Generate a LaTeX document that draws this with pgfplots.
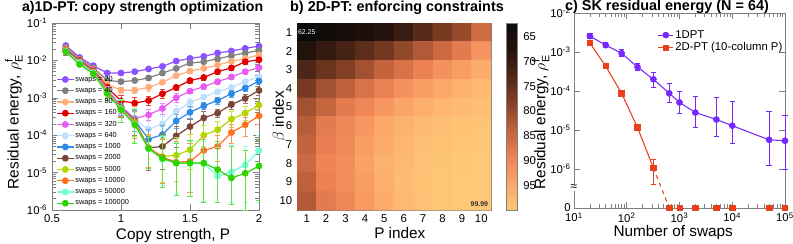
\documentclass[border=0pt]{standalone}
\usepackage{fontspec}
\setmainfont{Liberation Sans}
\usepackage{pgfplots}
\usepackage{pgfplotstable}
\pgfplotsset{compat=1.18}
\definecolor{cA}{RGB}{140,82,255}
\definecolor{cB}{RGB}{128,128,128}
\definecolor{cC}{RGB}{255,174,122}
\definecolor{cD}{RGB}{224,0,0}
\definecolor{cE}{RGB}{232,92,242}
\definecolor{cF}{RGB}{190,222,255}
\definecolor{cG}{RGB}{47,138,230}
\definecolor{cH}{RGB}{122,68,56}
\definecolor{cI}{RGB}{180,214,0}
\definecolor{cJ}{RGB}{255,112,32}
\definecolor{cK}{RGB}{112,255,216}
\definecolor{cL}{RGB}{47,212,0}
\definecolor{dpt}{RGB}{120,40,255}
\definecolor{tdpt}{RGB}{232,64,28}

\pgfplotstableread{
x y ep em
0.6 2.5e-2 .1 .1
0.7 1.2e-2 .1 .1
0.8 7.2e-3 .1 .1
0.9 4.6e-3 .1 .1
1.0 4.6e-3 .1 .1
1.1 5.0e-3 .1 .1
1.2 5.9e-3 .1 .1
1.3 6.9e-3 .1 .1
1.4 9.6e-3 .1 .1
1.5 1.13e-2 .1 .1
1.6 1.28e-2 .1 .1
1.7 1.58e-2 .1 .1
1.8 1.78e-2 .1 .1
1.9 2.1e-2 .1 .1
2.0 2.4e-2 .1 .1
}\tA
\pgfplotstableread{
x y ep em
0.6 2.2e-2 .12 .12
0.7 1.1e-2 .12 .12
0.8 6.3e-3 .12 .12
0.9 2.9e-3 .12 .12
1.0 2.7e-3 .12 .12
1.1 2.9e-3 .12 .12
1.2 3.4e-3 .12 .12
1.3 4.6e-3 .12 .12
1.4 6.1e-3 .12 .12
1.5 8.5e-3 .12 .12
1.6 9.2e-3 .12 .12
1.7 1.1e-2 .12 .12
1.8 1.33e-2 .12 .12
1.9 1.58e-2 .12 .12
2.0 1.85e-2 .12 .12
}\tB
\pgfplotstableread{
x y ep em
0.6 2.1e-2 .12 .12
0.7 1.04e-2 .12 .12
0.8 5.9e-3 .12 .12
0.9 2.3e-3 .12 .12
1.0 1.6e-3 .2 .2
1.1 1.6e-3 .2 .2
1.2 1.9e-3 .2 .2
1.3 2.6e-3 .12 .12
1.4 3.9e-3 .12 .12
1.5 5.2e-3 .12 .12
1.6 6.1e-3 .12 .12
1.7 7.5e-3 .12 .12
1.8 9.5e-3 .12 .12
1.9 1.13e-2 .12 .12
2.0 1.4e-2 .12 .12
}\tC
\pgfplotstableread{
x y ep em
0.6 2.0e-2 .15 .15
0.7 1.0e-2 .15 .15
0.8 5.6e-3 .15 .15
0.9 1.9e-3 .2 .2
1.0 8.2e-4 .4 .3
1.1 7.2e-4 .4 .3
1.2 8.5e-4 .3 .25
1.3 1.28e-3 .3 .25
1.4 1.9e-3 .15 .15
1.5 2.9e-3 .15 .15
1.6 3.5e-3 .15 .15
1.7 5.0e-3 .15 .15
1.8 6.3e-3 .15 .15
1.9 9.2e-3 .15 .15
2.0 1.04e-2 .15 .15
}\tD
\pgfplotstableread{
x y ep em
0.6 1.9e-2 .15 .15
0.7 9.6e-3 .15 .15
0.8 5.4e-3 .15 .15
0.9 1.7e-3 .2 .2
1.0 5.9e-4 .5 .35
1.1 2.8e-4 .5 .4
1.2 3.5e-4 .4 .3
1.3 5.2e-4 .4 .3
1.4 1.0e-3 .3 .25
1.5 1.5e-3 .15 .15
1.6 2.0e-3 .15 .15
1.7 2.7e-3 .15 .15
1.8 3.6e-3 .15 .15
1.9 5.0e-3 .15 .15
2.0 6.4e-3 .15 .15
}\tE
\pgfplotstableread{
x y ep em
0.6 1.9e-2 .15 .15
0.7 9.3e-3 .15 .15
0.8 5.2e-3 .15 .15
0.9 1.6e-3 .2 .2
1.0 5.6e-4 .5 .35
1.1 2.5e-4 .6 .4
1.2 1.45e-4 .6 .4
1.3 2.0e-4 .6 .4
1.4 4.4e-4 .4 .3
1.5 7.5e-4 .3 .25
1.6 1.05e-3 .15 .15
1.7 1.45e-3 .15 .15
1.8 1.9e-3 .15 .15
1.9 2.7e-3 .15 .15
2.0 3.7e-3 .15 .15
}\tF
\pgfplotstableread{
x y ep em
0.6 1.9e-2 .2 .2
0.7 9.3e-3 .2 .2
0.8 5.2e-3 .2 .2
0.9 1.5e-3 .2 .2
1.0 5.6e-4 .6 .4
1.1 2.5e-4 .8 .5
1.2 7.8e-5 .8 .5
1.3 1.04e-4 .8 .5
1.4 2.4e-4 .5 .35
1.5 4.1e-4 .4 .3
1.6 6.1e-4 .2 .2
1.7 8.5e-4 .2 .2
1.8 1.28e-3 .2 .2
1.9 1.8e-3 .2 .2
2.0 2.8e-3 .2 .2
}\tG
\pgfplotstableread{
x y ep em
0.6 1.85e-2 .25 .25
0.7 9.0e-3 .25 .25
0.8 5.0e-3 .25 .25
0.9 1.5e-3 .25 .25
1.0 5.4e-4 .7 .45
1.1 2.4e-4 1 .6
1.2 4.6e-5 1.2 .75
1.3 5.0e-5 1.2 .75
1.4 9.6e-5 .8 .5
1.5 1.7e-4 .6 .4
1.6 2.9e-4 .5 .35
1.7 3.9e-4 .25 .25
1.8 6.6e-4 .25 .25
1.9 9.6e-4 .25 .25
2.0 1.58e-3 .25 .25
}\tH
\pgfplotstableread{
x y ep em
0.6 1.8e-2 .2 .2
0.7 8.8e-3 .2 .2
0.8 4.9e-3 .2 .2
0.9 1.45e-3 .3 .3
1.0 5.2e-4 .6 .4
1.1 2.3e-4 1.2 .6
1.2 4.6e-5 1.2 .7
1.3 2.7e-5 2 .8
1.4 2.9e-5 2 .8
1.5 4.1e-5 1.5 .7
1.6 1.0e-4 .8 .5
1.7 1.4e-4 .7 .5
1.8 2.7e-4 .6 .4
1.9 3.9e-4 .5 .35
2.0 6.4e-4 .4 .3
}\tI
\pgfplotstableread{
x y ep em
0.6 1.8e-2 .2 .2
0.7 8.8e-3 .2 .2
0.8 4.9e-3 .2 .2
0.9 1.45e-3 .3 .3
1.0 5.2e-4 .6 .4
1.1 2.3e-4 1.5 .65
1.2 4.6e-5 1.3 .7
1.3 2.6e-5 2 .8
1.4 1.9e-5 2.5 .85
1.5 2.0e-5 2 .85
1.6 3.9e-5 1.2 .6
1.7 5.0e-5 1 .6
1.8 1.18e-4 .6 .5
1.9 1.9e-4 .6 .5
2.0 3.3e-4 .5 .4
}\tJ
\pgfplotstableread{
x y ep em
0.6 1.75e-2 .15 .15
0.7 8.5e-3 .15 .15
0.8 4.6e-3 .2 .2
0.9 1.35e-3 .35 .3
1.0 5.0e-4 .8 .55
1.1 2.0e-4 1.6 .68
1.2 4.4e-5 1 .7
1.3 2.3e-5 3 .8
1.4 1.8e-5 2.5 .85
1.5 1.75e-5 3 .87
1.6 1.75e-5 3 .9
1.7 8.1e-6 5 .8
1.8 1.04e-5 4 .85
1.9 1.6e-5 2.2 .9
2.0 3.9e-5 1.5 .96
}\tK
\pgfplotstableread{
x y ep em
0.6 1.7e-2 .1 .1
0.7 7.8e-3 .1 .1
0.8 4.4e-3 .15 .15
0.9 1.3e-3 .4 .35
1.0 4.8e-4 .8 .55
1.1 1.9e-4 1.6 .68
1.2 4.4e-5 1 .7
1.3 2.4e-5 3 .83
1.4 1.8e-5 2.3 .86
1.5 1.8e-5 3 .87
1.6 1.8e-5 3.4 .91
1.7 1.2e-5 4.8 .87
1.8 7.2e-6 6 .8
1.9 9.6e-6 3.2 .9
2.0 1.5e-5 3.7 .88
}\tL

\pgfplotstableread{
x y ep em
20 2.55e-3 4.5e-4 3.5e-4
40 1.50e-3 2.5e-4 2.0e-4
80 9.3e-4 2.2e-4 1.8e-4
160 4.1e-4 0.9e-4 0.8e-4
320 2.0e-4 1.0e-4 0.8e-4
640 8.7e-5 7.3e-5 3.7e-5
1000 5.1e-5 4.9e-5 2.5e-5
2000 2.8e-5 4.5e-5 1.65e-5
5000 1.86e-5 4.94e-5 1.18e-5
10000 1.29e-5 4.11e-5 8.4e-6
50000 5.6e-6 2.44e-5 4.4e-6
100000 5.3e-6 1.77e-5 4.3e-6
}\tP
\pgfplotstableread{
x y ep em
20 1.7e-3 2e-4 2e-4
40 4.3e-4 4e-5 4e-5
80 8.7e-5 8e-6 8e-6
160 1.15e-5 2.5e-6 2e-6
320 1.07e-6 7.3e-7 6.7e-7
}\tR

\newcommand\aseries[3]{%
\addplot[color=#1, line width=0.9pt, mark=*, mark size=2.1pt,
  error bars/.cd, y dir=both, y explicit relative,
  error bar style={line width=0.6pt, #1!75!white},
  error mark options={rotate=90, mark size=1.9pt, line width=0.6pt, #1!75!white}]
  table[x=x, y=y, y error plus=ep, y error minus=em] {#2};
\addlegendentry{swaps = #3}}

\begin{document}
\begin{tikzpicture}
\path[use as bounding box] (0,0) rectangle (594.75pt,182.25pt);
\node[font=\fontsize{10.6}{10.6}\selectfont\bfseries] at (107pt,176.5pt) {a)1D-PT: copy strength optimization};
\node[font=\fontsize{10.8}{10.8}\selectfont\bfseries] at (297.75pt,176.5pt) {b) 2D-PT: enforcing constraints};
\node[font=\fontsize{10.8}{10.8}\selectfont\bfseries] at (500.25pt,177pt) {c) SK residual energy (N = 64)};

% ---------------- panel a
\begin{axis}[
  at={(39pt,24.75pt)}, anchor=south west,
  scale only axis, width=155.25pt, height=140.25pt,
  xmin=0.5, xmax=2, ymode=log, ymin=1e-6, ymax=1e-1,
  xtick={0.5,1,1.5,2}, xticklabels={0.5,1,1.5,2},
  ytick={1e-6,1e-5,1e-4,1e-3,1e-2,1e-1},
  yticklabels={10\textsuperscript{-6},10\textsuperscript{-5},10\textsuperscript{-4},10\textsuperscript{-3},10\textsuperscript{-2},10\textsuperscript{-1}},
  tick label style={font=\fontsize{8.5}{8.5}\selectfont},
  axis line style={gray}, every tick/.style={gray},
  tick align=inside,
  clip mode=individual,
  xlabel={Copy strength, P},
  ylabel={Residual energy, $\rho^{\mathrm{f}}_{\mathrm{E}}$},
  label style={font=\fontsize{11.5}{12}\selectfont},
  xlabel style={at={(axis description cs:0.585,-0.134)}, anchor=center},
  ylabel style={at={(axis description cs:-0.184,0.47)}, anchor=center},
  legend style={at={(0.02,0.01)}, anchor=south west, draw=none, fill=none,
    font=\fontsize{5.5}{6.5}\selectfont, row sep=1.5pt, inner sep=0pt,
    nodes={inner sep=0.8pt, font=\fontsize{5.5}{6.5}\selectfont}},
  legend cell align=left,
  legend image code/.code={\draw[mark repeat=2,mark phase=2] plot coordinates {(0cm,0cm) (0.22cm,0cm) (0.44cm,0cm)};},
]
\aseries{cA}{\tA}{20}
\aseries{cB}{\tB}{40}
\aseries{cC}{\tC}{80}
\aseries{cD}{\tD}{160}
\aseries{cE}{\tE}{320}
\aseries{cF}{\tF}{640}
\aseries{cG}{\tG}{1000}
\aseries{cH}{\tH}{2000}
\aseries{cI}{\tI}{5000}
\aseries{cJ}{\tJ}{10000}
\aseries{cK}{\tK}{50000}
\aseries{cL}{\tL}{100000}
\end{axis}

% ---------------- panel b
\begin{axis}[
  at={(222.75pt,24.75pt)}, anchor=south west,
  scale only axis, width=145.5pt, height=140.25pt,
  xmin=0.5, xmax=10.5, ymin=0.5, ymax=10.5, y dir=reverse,
  xtick={1,...,10}, ytick={1,...,10}, major tick length=0pt,
  axis line style={gray},
  /pgf/number format/assume math mode=true,
  tick label style={font=\fontsize{8.5}{8.5}\selectfont},
  colormap={hm}{rgb255=(10,10,10) rgb255=(38,18,12) rgb255=(82,40,24)
    rgb255=(135,65,38) rgb255=(192,98,60) rgb255=(238,130,85)
    rgb255=(251,165,104) rgb255=(255,200,120)},
  point meta min=62.25, point meta max=99.99,
  colorbar,
  colorbar style={
    at={(parent axis.north east)}, anchor=north west, xshift=3pt,
    scale only axis, width=8.25pt, height=140.25pt,
    y dir=reverse, ytick={65,70,...,95},
    axis line style={gray}, major tick length=0pt,
    /pgf/number format/assume math mode=true,
    yticklabel style={font=\fontsize{8.5}{8.5}\selectfont, xshift=1pt},
  },
  xlabel={P index}, ylabel={$\beta$ index},
  label style={font=\fontsize{11.5}{12}\selectfont},
  xlabel style={at={(axis description cs:0.53,-0.123)}, anchor=center},
  ylabel style={at={(axis description cs:-0.088,0.5)}, anchor=center},
]
\addplot[matrix plot*, mesh/cols=10, point meta=explicit] coordinates {
(1,1)[62.25] (2,1)[63.5] (3,1)[64.5] (4,1)[66] (5,1)[67.5] (6,1)[70] (7,1)[73.5] (8,1)[77] (9,1)[80] (10,1)[85.5]

(1,2)[67] (2,2)[69.5] (3,2)[71.5] (4,2)[74] (5,2)[76.5] (6,2)[79.5] (7,2)[82.5] (8,2)[85] (9,2)[88] (10,2)[92]

(1,3)[72.5] (2,3)[75.5] (3,3)[78] (4,3)[81] (5,3)[84] (6,3)[86.5] (7,3)[89] (8,3)[91.5] (9,3)[93.5] (10,3)[95.5]

(1,4)[77] (2,4)[81] (3,4)[83.5] (4,4)[86.5] (5,4)[89] (6,4)[91.5] (7,4)[93.5] (8,4)[95] (9,4)[96.5] (10,4)[97.5]

(1,5)[81] (2,5)[84.5] (3,5)[88] (4,5)[90] (5,5)[92.5] (6,5)[94.5] (7,5)[96] (8,5)[97] (9,5)[98] (10,5)[98.5]

(1,6)[83] (2,6)[88] (3,6)[90] (4,6)[92.5] (5,6)[95] (6,6)[96.5] (7,6)[97.5] (8,6)[98.5] (9,6)[99] (10,6)[99.3]

(1,7)[84] (2,7)[88.5] (3,7)[90.5] (4,7)[93.5] (5,7)[95.5] (6,7)[97] (7,7)[98.5] (8,7)[99] (9,7)[99.4] (10,7)[99.6]

(1,8)[85] (2,8)[89.5] (3,8)[91] (4,8)[94] (5,8)[96.5] (6,8)[97.5] (7,8)[98.8] (8,8)[99.3] (9,8)[99.6] (10,8)[99.8]

(1,9)[83.5] (2,9)[89] (3,9)[91] (4,9)[93.5] (5,9)[96] (6,9)[98] (7,9)[99] (8,9)[99.5] (9,9)[99.8] (10,9)[99.9]

(1,10)[82.5] (2,10)[88] (3,10)[90] (4,10)[93] (5,10)[95.5] (6,10)[97.5] (7,10)[98.8] (8,10)[99.5] (9,10)[99.8] (10,10)[99.99]
};
\node[white, font=\fontsize{5.2}{5.2}\selectfont] at (axis cs:1,1) {62.25};
\node[black!80, font=\fontsize{5.2}{5.2}\selectfont\bfseries] at (axis cs:9.9,10.2) {99.99};
\end{axis}

% ---------------- panel c
\begin{axis}[
  at={(430.5pt,26.25pt)}, anchor=south west,
  scale only axis, width=158.25pt, height=146.25pt,
  xmode=log, ymode=log, xmin=10, xmax=1e5, ymin=1e-7, ymax=1e-2,
  xtick={10,100,1000,1e4,1e5},
  xticklabels={10\textsuperscript{1},10\textsuperscript{2},10\textsuperscript{3},10\textsuperscript{4},10\textsuperscript{5}},
  ytick={1e-7,1e-6,1e-5,1e-4,1e-3,1e-2},
  yticklabels={0,10\textsuperscript{-6},10\textsuperscript{-5},10\textsuperscript{-4},10\textsuperscript{-3},10\textsuperscript{-2}},
  yminorticks=false,
  tick label style={font=\fontsize{8.5}{8.5}\selectfont},
  yticklabel style={xshift=1pt},
  axis line style={gray}, every tick/.style={gray},
  tick align=inside,
  clip=false,
  xlabel={Number of swaps},
  ylabel={Residual energy, $\rho^{\mathrm{f}}_{\mathrm{E}}$},
  label style={font=\fontsize{11.5}{12}\selectfont},
  xlabel style={at={(axis description cs:0.47,-0.128)}, anchor=center},
  ylabel style={at={(axis description cs:-0.158,0.44)}, anchor=center},
  legend style={at={(0.995,0.92)}, anchor=north east, draw=none, fill=none,
    font=\fontsize{8.5}{8.5}\selectfont, inner sep=0pt, nodes={inner sep=1pt}},
  legend cell align=left,
  legend image code/.code={\draw[mark repeat=2,mark phase=2] plot coordinates {(0cm,0cm) (0.2cm,0cm) (0.4cm,0cm)};},
]
\addplot[dpt, line width=0.8pt, mark=*, mark size=2.1pt,
  error bars/.cd, y dir=both, y explicit,
  error bar style={line width=0.7pt, dpt},
  error mark options={rotate=90, mark size=2pt, line width=0.7pt, dpt}]
  table[x=x, y=y, y error plus=ep, y error minus=em] {\tP};
\addlegendentry{1DPT}
\addplot[tdpt, line width=0.8pt, mark=square*, mark size=2pt,
  error bars/.cd, y dir=both, y explicit,
  error bar style={line width=0.7pt, tdpt},
  error mark options={rotate=90, mark size=2pt, line width=0.7pt, tdpt}]
  table[x=x, y=y, y error plus=ep, y error minus=em] {\tR};
\addlegendentry{2D-PT (10-column P)}
\addplot[tdpt, dashed, line width=0.8pt, forget plot] coordinates {(320,1.07e-6) (640,1e-7)};
\addplot[tdpt, only marks, mark=square*, mark size=2pt, forget plot] coordinates {
(640,1e-7) (1000,1e-7) (2000,1e-7) (5000,1e-7) (10000,1e-7) (50000,1e-7) (100000,1e-7)};
\node[fill=white, inner sep=0.3pt, font=\fontsize{9}{9}\selectfont] at (rel axis cs:0,0.103) {≈};
\end{axis}
\end{tikzpicture}
\end{document}
